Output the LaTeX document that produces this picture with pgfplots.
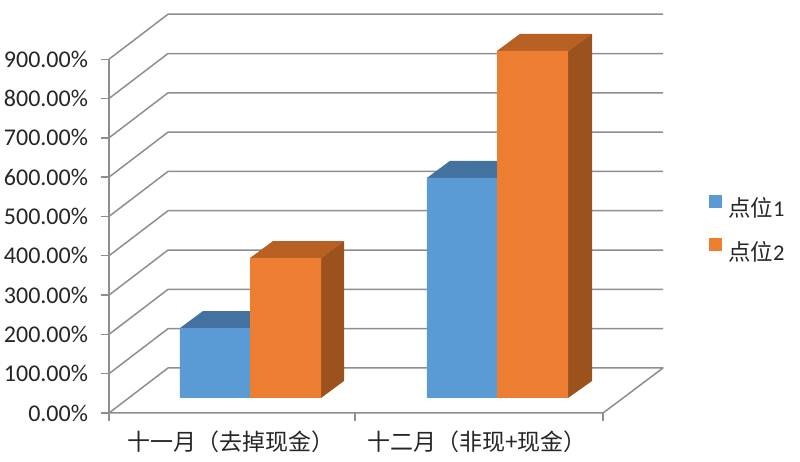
\documentclass[border=0pt]{standalone}
\usepackage{pgfplots}
\pgfplotsset{compat=1.18}
\usepackage{fontspec}
\setmainfont{Carlito}
\newfontfamily\cjk{Noto Sans CJK SC}
\definecolor{barblue}{HTML}{5B9BD5}
\definecolor{barorange}{HTML}{ED7D31}
\definecolor{topblue}{HTML}{4472A0}
\definecolor{toporange}{HTML}{B86024}
\definecolor{sideorange}{HTML}{9C521C}
\definecolor{gridgray}{HTML}{8E8E8E}
\begin{document}
\begin{tikzpicture}[x=1bp,y=1bp]
\useasboundingbox (-109bp,-49bp) rectangle (691bp,413bp);
\begin{axis}[
  at={(0,0)}, anchor=origin, name=main,
  scale only axis, width=554bp, height=399bp,
  xmin=109, xmax=663, ymin=0, ymax=1015,
  clip=false,
  axis x line=bottom, axis y line=left,
  axis line style={draw=none},
  every tick/.style={draw=gridgray, line width=1.4bp},
  tick align=outside, major tick length=7.5bp,
  xtick={109,355,603}, xticklabels={,,},
  extra x ticks={231,477},
  extra x tick labels={{\cjk 十一月（去掉现金）},{\cjk 十二月（非现+现金）}},
  extra x tick style={major tick length=0pt},
  x tick label style={font=\fontsize{23bp}{26bp}\selectfont, anchor=center, yshift=-29bp, text=black!85},
  ytick={0,100,200,300,400,500,600,700,800,900},
  yticklabel={\pgfmathprintnumber{\tick}\%},
  y tick label style={font=\fontsize{24bp}{26bp}\selectfont, /pgf/number format/.cd, fixed, zerofill, precision=2, assume math mode=true, /tikz/.cd, anchor=east, xshift=-10bp, text=black!85},
  legend style={at={(600bp,218bp)}, anchor=north west, draw=none, fill=none, inner sep=0pt, row sep=20bp, nodes={inner sep=0pt, font=\fontsize{22.5bp}{25bp}\selectfont, text=black!85}},
  legend cell align=left,
  legend image code/.code={\fill[#1] (0bp,0bp) rectangle (13bp,13bp);},
]
% legend
\addlegendimage{fill=barblue, draw=none}
\addlegendentry{\hspace{6bp}{\cjk 点位}1}
\addlegendimage{fill=barorange, draw=none}
\addlegendentry{\hspace{6bp}{\cjk 点位}2}
% walls: gridlines
\addplot[forget plot, draw=gridgray, line width=1.5bp, line join=round] coordinates {(109,0)(168,114.5)(663,114.5)(603,0)(109,0)};
\addplot[forget plot, draw=gridgray, line width=1.5bp, line join=round] coordinates {(109,100)(168,214.5)(663,214.5)};
\addplot[forget plot, draw=gridgray, line width=1.5bp, line join=round] coordinates {(109,200)(168,314.5)(663,314.5)};
\addplot[forget plot, draw=gridgray, line width=1.5bp, line join=round] coordinates {(109,300)(168,414.5)(663,414.5)};
\addplot[forget plot, draw=gridgray, line width=1.5bp, line join=round] coordinates {(109,400)(168,514.5)(663,514.5)};
\addplot[forget plot, draw=gridgray, line width=1.5bp, line join=round] coordinates {(109,500)(168,614.5)(663,614.5)};
\addplot[forget plot, draw=gridgray, line width=1.5bp, line join=round] coordinates {(109,600)(168,714.5)(663,714.5)};
\addplot[forget plot, draw=gridgray, line width=1.5bp, line join=round] coordinates {(109,700)(168,814.5)(663,814.5)};
\addplot[forget plot, draw=gridgray, line width=1.5bp, line join=round] coordinates {(109,800)(168,914.5)(663,914.5)};
\addplot[forget plot, draw=gridgray, line width=1.5bp, line join=round] coordinates {(109,900)(168,1014.5)(663,1014.5)};
\addplot[forget plot, draw=gridgray, line width=1.8bp] coordinates {(109,0)(109,900)};
% blue tops
\addplot[forget plot, fill=topblue, draw=none, yshift=15bp] coordinates {(180,178)(203,221.3)(273,221.3)(250,178)} --cycle;
\addplot[forget plot, fill=topblue, draw=none, yshift=15bp] coordinates {(427,560)(450,603.3)(520,603.3)(497,560)} --cycle;
% blue fronts
\addplot[forget plot, ybar, bar width=70.5bp, bar shift=0pt, fill=barblue, draw=none, yshift=15bp] coordinates {(215,178)(462,560)};
% orange tops and sides
\addplot[forget plot, fill=toporange, draw=none, yshift=15bp] coordinates {(250,356)(273,399.3)(344,399.3)(321,356)} --cycle;
\addplot[forget plot, fill=toporange, draw=none, yshift=15bp] coordinates {(497,883)(520,926.3)(592,926.3)(568,883)} --cycle;
\addplot[forget plot, fill=sideorange, draw=none, yshift=15bp] coordinates {(321,0)(344,43.3)(344,399.3)(321,356)} --cycle;
\addplot[forget plot, fill=sideorange, draw=none, yshift=15bp] coordinates {(568,0)(592,43.3)(592,926.3)(568,883)} --cycle;
% orange fronts
\addplot[forget plot, ybar, bar width=71bp, bar shift=0pt, fill=barorange, draw=none, yshift=15bp] coordinates {(285.5,356)(532.5,883)};
\end{axis}
\end{tikzpicture}
\end{document}
